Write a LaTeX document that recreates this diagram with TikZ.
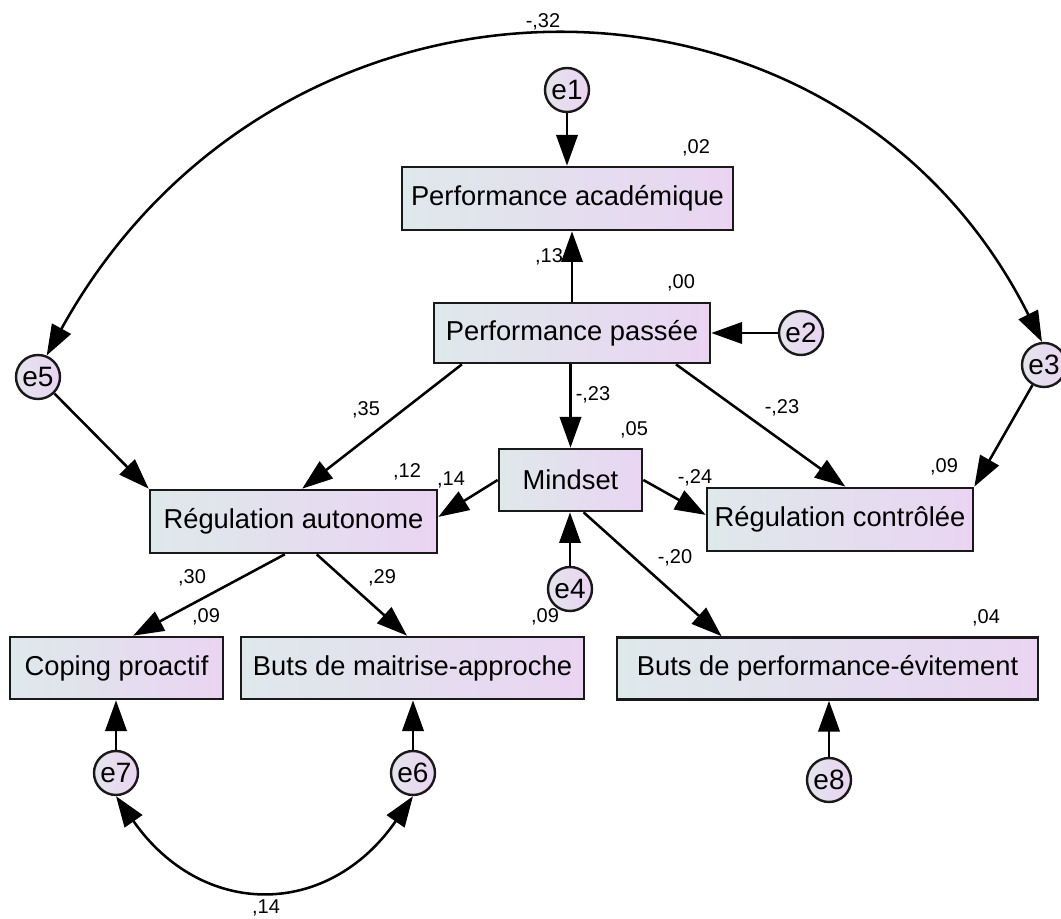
\documentclass[tikz,border=0pt]{standalone}
\usepackage{fontspec}
\setmainfont{Liberation Sans}
\usetikzlibrary{arrows.meta,calc}
\definecolor{bxL}{RGB}{222,233,235}
\definecolor{bxR}{RGB}{234,212,242}
\definecolor{ciL}{RGB}{228,228,236}
\definecolor{ciR}{RGB}{234,212,242}
\begin{document}
\begin{tikzpicture}[x=0.75pt,y=-0.75pt,
  box/.style={draw=black!90, line width=2pt, left color=bxL, right color=bxR, inner sep=0pt, font=\fontsize{20.5pt}{24pt}\selectfont},
  circ/.style={circle, draw=black!90, line width=1.8pt, minimum size=33pt, inner sep=0pt, left color=ciL, right color=ciR, font=\fontsize{21pt}{24pt}\selectfont},
  conn/.style={line width=1.9pt, -{Triangle[length=23pt,width=16pt]}},
  dconn/.style={line width=1.9pt, {Triangle[length=23pt,width=16pt]}-{Triangle[length=23pt,width=16pt]}},
  lab/.style={inner sep=0pt, font=\fontsize{15pt}{18pt}\selectfont}]
\useasboundingbox (0,0) rectangle (1061,919);
\fill[white] (0,0) rectangle (1061,919);

% boxes
\node[box, minimum width=248.25pt, minimum height=47.25pt] (acad) at (567.5,198.5) {Performance académique};
\node[box, minimum width=207pt, minimum height=45pt] (passee) at (572,333) {Performance passée};
\node[box, minimum width=107.25pt, minimum height=46.5pt] (mind) at (570.5,480) {Mindset};
\node[box, minimum width=215.25pt, minimum height=47.25pt] (regaut) at (293.5,521.5) {Régulation autonome};
\node[box, minimum width=199.5pt, minimum height=47.25pt] (regcont) at (840,519.5) {Régulation contrôlée};
\node[box, minimum width=159.75pt, minimum height=46.5pt] (coping) at (116.5,668) {Coping proactif};
\node[box, minimum width=257.25pt, minimum height=46.5pt] (maitr) at (412.5,668) {Buts de maitrise-approche};
\node[box, minimum width=315.75pt, minimum height=46.5pt] (evit) at (827.5,668.5) {Buts de performance-évitement};

% error terms
\node[circ] (e1) at (567,90) {e1};
\node[circ] (e2) at (801,333) {e2};
\node[circ] (e3) at (1044,365) {e3};
\node[circ] (e4) at (570,589) {e4};
\node[circ] (e5) at (38,377) {e5};
\node[circ] (e6) at (413,773) {e6};
\node[circ] (e7) at (116,773) {e7};
\node[circ] (e8) at (829,780) {e8};

% paths
\draw[conn] (e1) -- (e1 |- acad.north);
\draw[conn] (passee.north) -- (acad.south -| passee.north);
\draw[conn] (e2) -- (passee.east);
\draw[conn] (mind.north |- passee.south) -- (mind.north);
\draw[conn] ($(passee.south west)!0.105!(passee.south east)$) -- ($(regaut.north west)!0.53!(regaut.north east)$);
\draw[conn] ($(passee.south west)!0.873!(passee.south east)$) -- ($(regcont.north west)!0.52!(regcont.north east)$);
\draw[conn] (e3) -- (regcont.north east);
\draw[conn] (e5) -- (regaut.north west);
\draw[conn] (mind.west) -- ($(regaut.north east)!0.43!(regaut.south east)$);
\draw[conn] (mind.east) -- ($(regcont.north west)!0.43!(regcont.south west)$);
\draw[conn] (e4) -- (e4 |- mind.south);
\draw[conn] ($(mind.south west)!0.59!(mind.south east)$) -- ($(evit.north west)!0.25!(evit.north east)$);
\draw[conn] ($(regaut.south west)!0.47!(regaut.south east)$) -- ($(coping.north west)!0.577!(coping.north east)$);
\draw[conn] ($(regaut.south west)!0.58!(regaut.south east)$) -- ($(maitr.north west)!0.484!(maitr.north east)$);
\draw[conn] (e7) -- (e7 |- coping.south);
\draw[conn] (e6) -- (e6 |- maitr.south);
\draw[conn] (e8) -- (e8 |- evit.south);

% covariances
\draw[dconn] (e5.68) .. controls (279,-65) and (838,-65) .. (e3.95);
\draw[dconn] (e7.south) .. controls (202,919) and (328,919) .. (e6.south);

% estimates
\node[lab] (l32) at (543,22) {-,32};
\node[lab] (l02) at (696,148) {,02};
\node[lab] (l13) at (549,257) {,13};
\node[lab] (l00) at (681,283) {,00};
\node[lab] (l23a) at (593,395) {-,23};
\node[lab] (l23b) at (782,408) {-,23};
\node[lab] (l35) at (366,410) {,35};
\node[lab] (l05) at (634,430) {,05};
\node[lab] (l12) at (407,472) {,12};
\node[lab] (l14a) at (451,480) {,14};
\node[lab] (l24) at (695,478) {-,24};
\node[lab] (l09c) at (944,467) {,09};
\node[lab] (l30) at (192,578) {,30};
\node[lab] (l29) at (382,578) {,29};
\node[lab] (l09a) at (206,617) {,09};
\node[lab] (l09b) at (545,617) {,09};
\node[lab] (l20) at (675,558) {-,20};
\node[lab] (l04) at (986,618) {,04};
\node[lab] (l14b) at (266,908) {,14};
\end{tikzpicture}
\end{document}
